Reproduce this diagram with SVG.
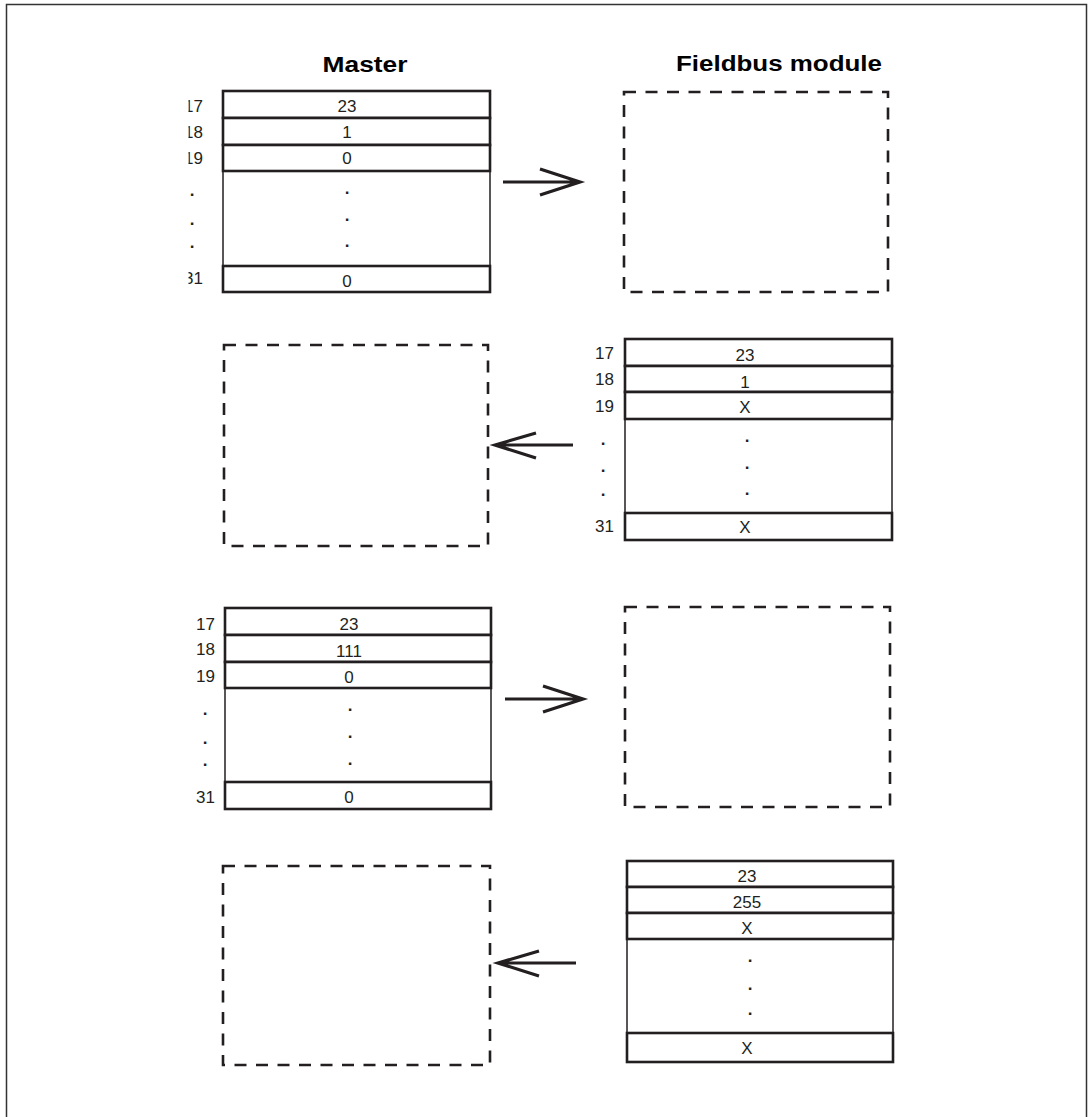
<svg xmlns="http://www.w3.org/2000/svg" width="1088" height="1117" viewBox="0 0 1088 1117">
<style>
.frame{fill:none;stroke:#333;stroke-width:1.5}
.row{fill:#fff;stroke:#231f20;stroke-width:2.6}
.mid{fill:#fff;stroke:#231f20;stroke-width:1.5}
.dash{fill:none;stroke:#231f20;stroke-width:2.6;stroke-dasharray:12 9.5}
.t{font-family:"Liberation Sans",Arial,sans-serif;font-size:17px;fill:#231f20;text-anchor:middle}
.l{font-family:"Liberation Sans",Arial,sans-serif;font-size:17px;fill:#231f20;text-anchor:end}
.d{font-family:"Liberation Sans",Arial,sans-serif;font-size:17px;fill:#231f20;text-anchor:middle;font-weight:bold}
.h{font-family:"Liberation Sans",Arial,sans-serif;font-size:22px;font-weight:bold;fill:#000;text-anchor:middle}
.arr{fill:none;stroke:#231f20;stroke-width:3.2;stroke-linecap:butt;stroke-linejoin:miter}
</style>
<defs>
<clipPath id="clip1"><rect x="188.5" y="90" width="40" height="210"/></clipPath>
</defs>
<rect width="1088" height="1117" fill="#fff"/>
<rect class="frame" x="6.5" y="4.5" width="1080" height="1130"/>

<g id="titles">
<text class="h" x="365" y="72" textLength="85" lengthAdjust="spacingAndGlyphs">Master</text>
<text class="h" x="779" y="71" textLength="206" lengthAdjust="spacingAndGlyphs">Fieldbus module</text>
</g>

<g id="master1">
<rect class="mid" x="223" y="171" width="267" height="95"/>
<rect class="row" x="223" y="91" width="267" height="27"/>
<rect class="row" x="223" y="118" width="267" height="27"/>
<rect class="row" x="223" y="145" width="267" height="26"/>
<rect class="row" x="223" y="266" width="267" height="26"/>
<text class="t" x="347" y="112">23</text>
<text class="t" x="347" y="138">1</text>
<text class="t" x="347" y="164">0</text>
<text class="t" x="347" y="287">0</text>
<text class="d" x="347" y="194">.</text>
<text class="d" x="347" y="221">.</text>
<text class="d" x="347" y="247">.</text>
<g clip-path="url(#clip1)">
<text class="l" x="203" y="112">17</text>
<text class="l" x="203" y="138">18</text>
<text class="l" x="203" y="164">19</text>
<text class="l" x="203" y="284">31</text>
</g>
<text class="d" x="192" y="196">.</text>
<text class="d" x="192" y="225">.</text>
<text class="d" x="192" y="248">.</text>
</g>

<g id="fieldbus1">
<path class="dash" d="M624 92 H888 V292 H624 Z"/>
</g>

<g id="master2">
<path class="dash" d="M224 345 H488 V546 H224 Z"/>
</g>

<g id="fieldbus2">
<rect class="mid" x="625" y="419" width="267" height="94"/>
<rect class="row" x="625" y="339" width="267" height="27"/>
<rect class="row" x="625" y="366" width="267" height="26"/>
<rect class="row" x="625" y="392" width="267" height="27"/>
<rect class="row" x="625" y="513" width="267" height="27"/>
<text class="t" x="745" y="361">23</text>
<text class="t" x="745" y="388">1</text>
<text class="t" x="745" y="413">X</text>
<text class="t" x="745" y="533">X</text>
<text class="d" x="747" y="442">.</text>
<text class="d" x="747" y="469">.</text>
<text class="d" x="747" y="495">.</text>
<text class="l" x="614" y="359">17</text>
<text class="l" x="614" y="385">18</text>
<text class="l" x="614" y="412">19</text>
<text class="l" x="614" y="532">31</text>
<text class="d" x="603" y="445">.</text>
<text class="d" x="603" y="472">.</text>
<text class="d" x="603" y="496">.</text>
</g>

<g id="master3">
<rect class="mid" x="225" y="688" width="266" height="94"/>
<rect class="row" x="225" y="608" width="266" height="27"/>
<rect class="row" x="225" y="635" width="266" height="27"/>
<rect class="row" x="225" y="662" width="266" height="26"/>
<rect class="row" x="225" y="782" width="266" height="27"/>
<text class="t" x="349" y="630">23</text>
<text class="t" x="349" y="657">111</text>
<text class="t" x="349" y="683">0</text>
<text class="t" x="349" y="803">0</text>
<text class="d" x="350" y="711">.</text>
<text class="d" x="350" y="738">.</text>
<text class="d" x="350" y="765">.</text>
<text class="l" x="215" y="630">17</text>
<text class="l" x="215" y="655">18</text>
<text class="l" x="215" y="682">19</text>
<text class="l" x="215" y="803">31</text>
<text class="d" x="205" y="715">.</text>
<text class="d" x="205" y="744">.</text>
<text class="d" x="205" y="766">.</text>
</g>

<g id="fieldbus3">
<path class="dash" d="M625 607 H890 V807 H625 Z"/>
</g>

<g id="master4">
<path class="dash" d="M223 866 H490 V1065 H223 Z"/>
</g>

<g id="fieldbus4">
<rect class="mid" x="627" y="939" width="266" height="94"/>
<rect class="row" x="627" y="861" width="266" height="26"/>
<rect class="row" x="627" y="887" width="266" height="26"/>
<rect class="row" x="627" y="913" width="266" height="26"/>
<rect class="row" x="627" y="1033" width="266" height="29"/>
<text class="t" x="747" y="882">23</text>
<text class="t" x="747" y="908">255</text>
<text class="t" x="747" y="934">X</text>
<text class="t" x="747" y="1054">X</text>
<text class="d" x="750" y="962">.</text>
<text class="d" x="750" y="990">.</text>
<text class="d" x="750" y="1015">.</text>
</g>

<g id="connectors">
<path class="arr" d="M503 182 H579 M540 169 L580 182 L540 195"/>
<path class="arr" d="M573 445 H496 M536 433 L495 445 L536 458"/>
<path class="arr" d="M505 699 H582 M543 686 L583 699 L543 712"/>
<path class="arr" d="M576 963 H499 M539 951 L498 963 L539 976"/>
</g>
</svg>
